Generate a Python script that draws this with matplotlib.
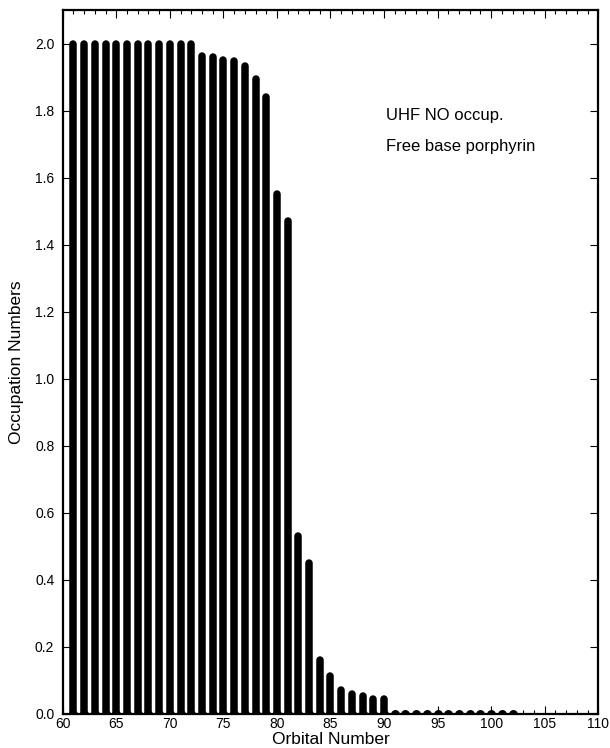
import matplotlib
matplotlib.use("Agg")
import matplotlib.pyplot as plt
from matplotlib.ticker import MultipleLocator, FormatStrFormatter

plt.rcParams['font.family'] = ['Liberation Sans', 'DejaVu Sans']

orbitals = list(range(61, 103))
occupations = [
    2.000, 2.000, 2.000, 2.000, 2.000, 2.000, 2.000, 2.000, 2.000, 2.000,  # 61-70
    2.000, 2.000, 1.963, 1.959, 1.952, 1.947, 1.932, 1.893, 1.841, 1.551,  # 71-80
    1.472, 0.530, 0.451, 0.161, 0.112, 0.072, 0.060, 0.053, 0.045, 0.045,  # 81-90
    0.000, 0.000, 0.000, 0.000, 0.000, 0.000, 0.000, 0.000, 0.000, 0.000,  # 91-100
    0.000, 0.000,                                                          # 101-102
]
x_label = "Orbital Number"
y_label = "Occupation Numbers"
annotation_lines = ["UHF NO occup.", "Free base porphyrin"]

fig = plt.figure(figsize=(6.1, 7.48), dpi=100)
ax_rect = [0.1028, 0.0455, 0.8780, 0.9411]
ax = fig.add_axes(ax_rect)

ax.vlines(orbitals, 0, occupations, colors='black', linewidth=5.4,
          capstyle='round', zorder=3)
ax.plot(orbitals, [0] * len(orbitals), linestyle='none', marker='o',
        markersize=5.4, color='black', zorder=4)

ax.set_xlim(60, 110)
ax.set_ylim(0, 2.1)
ax.xaxis.set_major_locator(MultipleLocator(5))
ax.xaxis.set_minor_locator(MultipleLocator(1))
ax.yaxis.set_major_locator(MultipleLocator(0.2))
ax.yaxis.set_major_formatter(FormatStrFormatter('%.1f'))

ax.tick_params(axis='both', which='both', direction='in', top=True, right=True,
               width=0.8)
ax.tick_params(axis='x', which='major', length=6, pad=2, labelsize=10)
ax.tick_params(axis='x', which='minor', length=3)
ax.tick_params(axis='y', which='major', length=6, pad=6, labelsize=10)

for s in ax.spines.values():
    s.set_linewidth(1.6)

xl = ax.set_xlabel(x_label, fontsize=12.5)
xl.set_va('bottom')
ax.xaxis.set_label_coords(0.5, -ax_rect[1] / ax_rect[3] + 0.001)
ax.set_ylabel(y_label, fontsize=12.5, labelpad=8)

ax.text(90.2, 1.786, annotation_lines[0], fontsize=12, va='center', ha='left')
ax.text(90.2, 1.694, annotation_lines[1], fontsize=12, va='center', ha='left')

fig.savefig("out.png", dpi=100)
